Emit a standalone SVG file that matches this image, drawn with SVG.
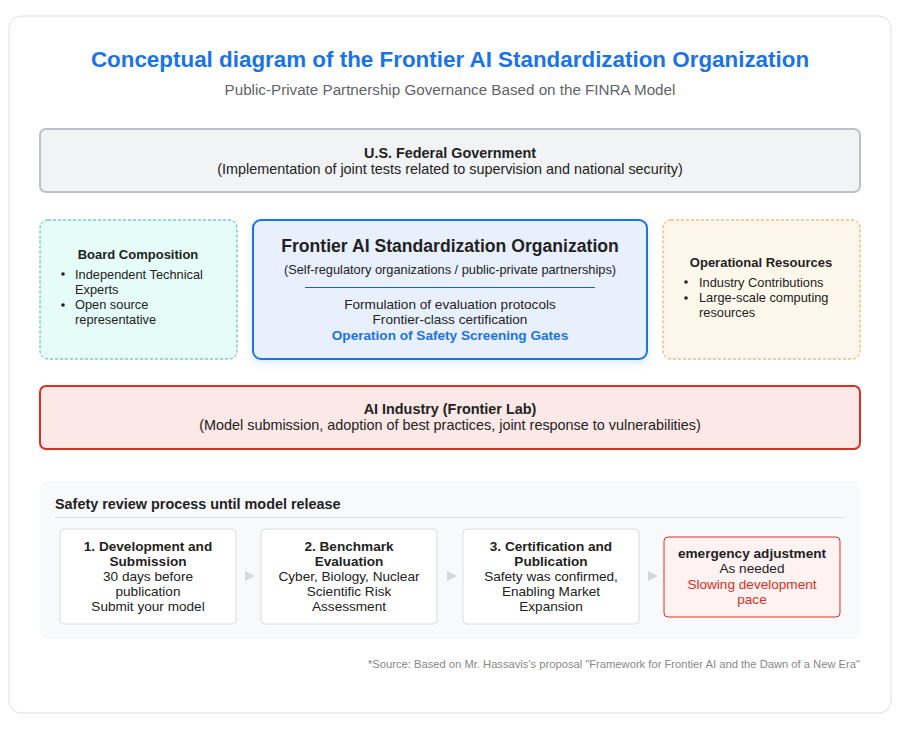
<svg xmlns="http://www.w3.org/2000/svg" width="900" height="730" viewBox="0 0 900 730">
<defs>
<style>
text{font-family:"Liberation Sans",Arial,sans-serif;fill:#222}
.c{text-anchor:middle}
.b{font-weight:bold}
.t13{font-size:12.8px}
.h13{font-size:13px}
.t14{font-size:14.4px}
.s14{font-size:13.6px}
.step{fill:#fff;stroke:#dadce0;stroke-width:1}
.arr{fill:#d5d7da}
</style>
<filter id="sh" x="-10%" y="-10%" width="120%" height="130%">
<feDropShadow dx="0" dy="3" stdDeviation="4" flood-color="#1a73e8" flood-opacity="0.15"/>
</filter>
</defs>
<rect x="0" y="0" width="900" height="730" fill="#fff"/>
<rect x="9" y="16" width="882" height="697" rx="12" fill="#fff" stroke="#dedede"/>
<text x="450" y="67" class="c b" style="font-size:22.4px;fill:#1a73e8">Conceptual diagram of the Frontier AI Standardization Organization</text>
<text x="450" y="95" class="c" style="font-size:15.2px;fill:#5f6368">Public-Private Partnership Governance Based on the FINRA Model</text>

<g id="gov">
<rect x="40" y="129" width="820" height="63" rx="6" fill="#f1f3f4" stroke="#bdc1c6" stroke-width="2"/>
<text x="450" y="158" class="c b t14">U.S. Federal Government</text>
<text x="450" y="174" class="c t14">(Implementation of joint tests related to supervision and national security)</text>
</g>

<g id="board">
<rect x="40" y="220" width="197" height="139" rx="8" fill="#e6fcf8" stroke="#3fb5a5" stroke-width="1" stroke-dasharray="3,2"/>
<text x="138" y="259" class="c b h13">Board Composition</text>
<circle cx="63" cy="274" r="1.8" fill="#222"/>
<circle cx="63" cy="305" r="1.8" fill="#222"/>
<text x="75" y="279" class="t13">Independent Technical</text>
<text x="75" y="294" class="t13">Experts</text>
<text x="75" y="309" class="t13">Open source</text>
<text x="75" y="324" class="t13">representative</text>
</g>

<g id="org">
<rect x="253" y="220" width="394" height="139" rx="8" fill="#e8f0fe" stroke="#1a73e8" stroke-width="2" filter="url(#sh)"/>
<text x="450" y="252" class="c b" style="font-size:17.6px">Frontier AI Standardization Organization</text>
<text x="450" y="274" class="c" style="font-size:12.8px">(Self-regulatory organizations / public-private partnerships)</text>
<line x1="305" y1="287.5" x2="595" y2="287.5" stroke="#1a5fc8" stroke-width="1"/>
<text x="450" y="309" class="c s14">Formulation of evaluation protocols</text>
<text x="450" y="324" class="c s14">Frontier-class certification</text>
<text x="450" y="340" class="c b s14" style="fill:#1a73e8">Operation of Safety Screening Gates</text>
</g>

<g id="resources">
<rect x="663" y="220" width="197" height="139" rx="8" fill="#fef8ec" stroke="#f09a45" stroke-width="1" stroke-dasharray="3,2"/>
<text x="761" y="267" class="c b h13">Operational Resources</text>
<circle cx="686" cy="282" r="1.8" fill="#222"/>
<circle cx="686" cy="298" r="1.8" fill="#222"/>
<text x="699" y="287" class="t13">Industry Contributions</text>
<text x="699" y="302" class="t13">Large-scale computing</text>
<text x="699" y="317" class="t13">resources</text>
</g>

<g id="industry">
<rect x="40" y="386" width="820" height="63" rx="6" fill="#fce8e6" stroke="#d93025" stroke-width="2"/>
<text x="450" y="414" class="c b t14">AI Industry (Frontier Lab)</text>
<text x="450" y="430" class="c t14">(Model submission, adoption of best practices, joint response to vulnerabilities)</text>
</g>

<g id="process">
<rect x="40" y="481" width="820" height="158" rx="8" fill="#f8f9fa"/>
<text x="55" y="509" class="b t14">Safety review process until model release</text>
<line x1="55" y1="517.5" x2="845" y2="517.5" stroke="#dddddd" stroke-width="1"/>
</g>

<g id="step1">
<rect x="60" y="529" width="176" height="95" rx="4" class="step"/>
<text x="148" y="551" class="c b s14">1. Development and</text>
<text x="148" y="566" class="c b s14">Submission</text>
<text x="148" y="581" class="c s14">30 days before</text>
<text x="148" y="596" class="c s14">publication</text>
<text x="148" y="611" class="c s14">Submit your model</text>
</g>

<g id="step2">
<rect x="261" y="529" width="176" height="95" rx="4" class="step"/>
<text x="349" y="551" class="c b s14">2. Benchmark</text>
<text x="349" y="566" class="c b s14">Evaluation</text>
<text x="349" y="581" class="c s14">Cyber, Biology, Nuclear</text>
<text x="349" y="596" class="c s14">Scientific Risk</text>
<text x="349" y="611" class="c s14">Assessment</text>
</g>

<g id="step3">
<rect x="463" y="529" width="176" height="95" rx="4" class="step"/>
<text x="551" y="551" class="c b s14">3. Certification and</text>
<text x="551" y="566" class="c b s14">Publication</text>
<text x="551" y="581" class="c s14">Safety was confirmed,</text>
<text x="551" y="596" class="c s14">Enabling Market</text>
<text x="551" y="611" class="c s14">Expansion</text>
</g>

<g id="step4">
<rect x="664" y="537" width="176" height="80" rx="4" fill="#fef2f2" stroke="#d93025" stroke-width="1"/>
<text x="752" y="558" class="c b s14">emergency adjustment</text>
<text x="752" y="573" class="c s14">As needed</text>
<text x="752" y="589" class="c s14" style="fill:#d93025">Slowing development</text>
<text x="752" y="604" class="c s14" style="fill:#d93025">pace</text>
</g>

<g id="connectors">
<polygon points="245,571 255,576 245,581" class="arr"/>
<polygon points="447,571 457,576 447,581" class="arr"/>
<polygon points="648,571 658,576 648,581" class="arr"/>
</g>

<text x="860" y="668" style="font-size:11.2px;fill:#888;text-anchor:end">*Source: Based on Mr. Hassavis's proposal "Framework for Frontier AI and the Dawn of a New Era"</text>
</svg>
